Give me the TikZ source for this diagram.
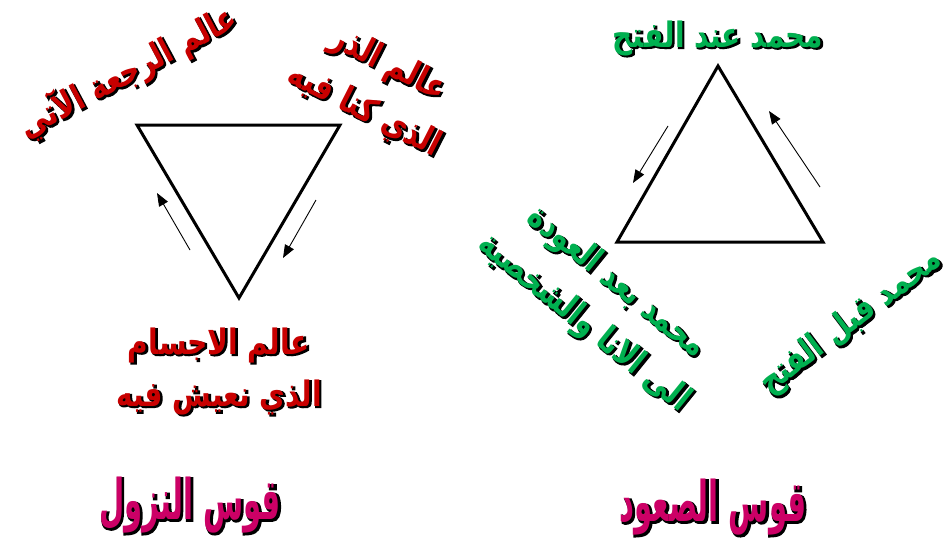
\documentclass[tikz,border=0pt]{standalone}
\usepackage{fontspec}
\usetikzlibrary{arrows.meta}
\TeXXeTstate=1
\newfontfamily\arabicfont[Script=Arabic,FakeStretch=0.8]{DejaVu Sans}
\newfontfamily\arabicfat[Script=Arabic,FakeStretch=0.8,BoldFeatures={FakeBold=4}]{DejaVu Sans}
\newfontfamily\arabicschmal[Script=Arabic,FakeStretch=0.52]{DejaVu Sans}
\newfontfamily\arabicschmalfat[Script=Arabic,FakeStretch=0.52,BoldFeatures={FakeBold=4}]{DejaVu Sans}
\definecolor{weinrot}{RGB}{200,0,0}
\definecolor{gruen}{RGB}{0,176,80}
\definecolor{pink}{RGB}{204,0,102}
\tikzset{
  dreieck/.style={draw=black, line width=3pt, line join=miter},
  pfeil/.style={draw=black, line width=0.9pt, -{Triangle[length=13pt,width=10pt]}},
  klein/.style={font=\arabicfont\bfseries\fontsize{35}{52}\selectfont},
  kleinfat/.style={font=\arabicfat\bfseries\fontsize{35}{52}\selectfont},
  gross/.style={font=\arabicschmal\bfseries\fontsize{56}{60}\selectfont},
  grossfat/.style={font=\arabicschmalfat\bfseries\fontsize{56}{60}\selectfont},
  schatten/.style={text=black, align=center, inner sep=0pt},
  fuellung/.style={text=#1, align=center, inner sep=0pt}
}
% Text mit schwarzem Rand und Schatten
\newcommand{\randtext}[6]{%
  \node[schatten, #5fat, rotate=#3] (#1-s) at ([shift={(1.3,1.3)}]#2) {#6};
  \node[fuellung=#4, #5, rotate=#3] (#1) at (#2) {#6};}
\begin{document}
\begin{tikzpicture}[x=1pt,y=-1pt]
  \useasboundingbox (0,0) rectangle (952,552);

  % Dreieck links (Spitze nach unten)
  \coordinate (l1) at (137,125);
  \coordinate (l2) at (340,125);
  \coordinate (l3) at (239,298);
  \draw[dreieck] (l1) -- (l2) -- (l3) -- cycle;

  % Pfeile links
  \coordinate (la1) at (190,250); \coordinate (la2) at (157,193);
  \coordinate (lb1) at (316,200); \coordinate (lb2) at (283,258);
  \draw[pfeil] (la1) -- (la2);
  \draw[pfeil] (lb1) -- (lb2);

  % Dreieck rechts (Spitze nach oben)
  \coordinate (r1) at (718,66);
  \coordinate (r2) at (823,242);
  \coordinate (r3) at (617,242);
  \draw[dreieck] (r1) -- (r2) -- (r3) -- cycle;

  % Pfeile rechts
  \coordinate (ra1) at (668,126); \coordinate (ra2) at (633,183);
  \coordinate (rb1) at (820,187); \coordinate (rb2) at (769,111);
  \draw[pfeil] (ra1) -- (ra2);
  \draw[pfeil] (rb1) -- (rb2);

  % Beschriftung links
  \randtext{rajaa}{128,72}{28}{weinrot}{klein}{\beginR عالم الرجعة الآتي\endR}
  \randtext{dharr}{376,88}{-27}{weinrot}{klein}{\beginR عالم الذر\endR\\\beginR الذي كنا فيه\endR}
  \randtext{ajsam}{219,371}{0}{weinrot}{klein}{\beginR عالم الاجسام\endR\\\beginR الذي نعيش فيه\endR}

  % Beschriftung rechts
  \randtext{fath}{718,38}{0}{gruen}{klein}{\beginR محمد عند الفتح\endR}
  \randtext{awda}{600,303}{-39}{gruen}{klein}{\beginR محمد بعد العودة\endR\\\beginR الى الانا والشخصية\endR}
  \randtext{qabl}{851,322}{37}{gruen}{klein}{\beginR محمد قبل الفتح\endR}

  % Titel unten
  \randtext{nuzul}{190,505}{0}{pink}{gross}{\beginR قوس النزول\endR}
  \randtext{suud}{713,507}{0}{pink}{gross}{\beginR قوس الصعود\endR}
\end{tikzpicture}
\end{document}
